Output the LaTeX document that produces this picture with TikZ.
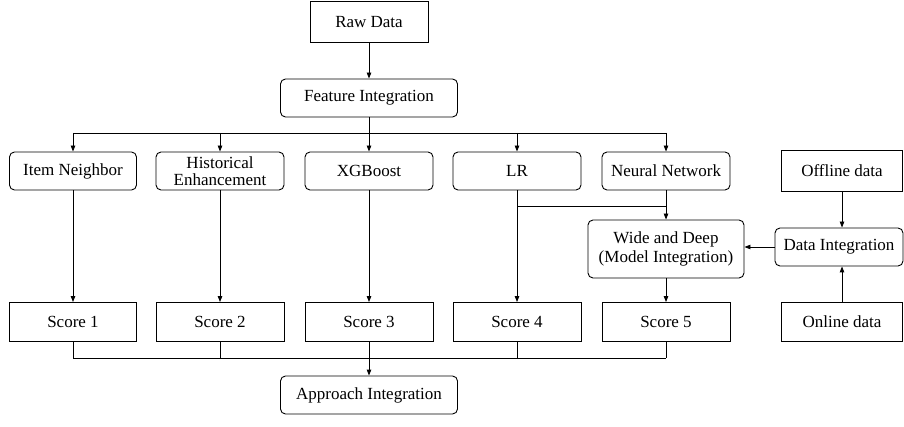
\documentclass[tikz,border=0pt]{standalone}
\usepackage{fontspec}
\setmainfont{Liberation Serif}
\usetikzlibrary{arrows.meta}
\begin{document}
\begin{tikzpicture}[x=1pt,y=-1pt,
  every node/.style={font=\fontsize{17}{19.5}\selectfont, inner sep=1pt, align=center, line width=0.9pt},
  plainbox/.style={draw, minimum width=#1, minimum height=39pt},
  plainbox/.default=128pt,
  roundbox/.style={draw, rounded corners=5pt, minimum width=#1, minimum height=38pt},
  roundbox/.default=128pt,
  conn/.style={line width=0.9pt},
  arr/.style={conn, -{Triangle[length=6pt,width=4.5pt]}}
]
\useasboundingbox (0,0) rectangle (904,427);

% source and feature stage
\node[plainbox=118pt, minimum height=41pt] (raw) at (369,22) {Raw Data};
\node[roundbox=177pt] (feat) at (369,98) {Feature Integration};

% model row
\node[roundbox=127pt] (item) at (73,171) {Item Neighbor};
\node[roundbox] (hist) at (220,171) {Historical\\[-2pt]Enhancement};
\node[roundbox] (xgb) at (369,171) {XGBoost};
\node[roundbox] (lr) at (517,171) {LR};
\node[roundbox] (nn) at (666,171) {Neural Network};

% data side
\node[plainbox=121pt, minimum height=41pt] (off) at (842,171) {Offline data};
\node[roundbox=156pt, minimum height=58pt] (wd) at (666,249) {Wide and Deep\\[-1pt](Model Integration)};
\node[roundbox=128pt] (di) at (839,247) {Data Integration};
\node[plainbox=121pt] (on) at (842,322) {Online data};

% scores
\node[plainbox=127pt] (s1) at (73,322) {Score 1};
\node[plainbox] (s2) at (220,322) {Score 2};
\node[plainbox] (s3) at (369,322) {Score 3};
\node[plainbox] (s4) at (517,322) {Score 4};
\node[plainbox] (s5) at (666,322) {Score 5};

\node[roundbox=177pt] (appr) at (369,395) {Approach Integration};

% bus coordinates
\coordinate (topbus) at (369,133);
\coordinate (lrjoin) at (517,206);
\coordinate (botbus) at (369,358);

\draw[arr] (raw) -- (feat);
\draw[conn] (feat.south) -- (topbus);
\draw[conn] (item.north |- topbus) -- (nn.north |- topbus);
\foreach \n in {item,hist,xgb,lr,nn}
  \draw[arr] (\n.north |- topbus) -- (\n.north);

\draw[arr] (item) -- (s1);
\draw[arr] (hist) -- (s2);
\draw[arr] (xgb) -- (s3);
\draw[arr] (lr) -- (s4);
\draw[conn] (lrjoin) -- (nn.south |- lrjoin);
\draw[arr] (nn) -- (wd);
\draw[arr] (wd) -- (s5);

\draw[arr] (off) -- (di.north -| off);
\draw[arr] (on) -- (di.south -| on);
\draw[arr] (di) -- (wd.east |- di);

\foreach \n in {s1,s2,s3,s4,s5}
  \draw[conn] (\n.south) -- (\n.south |- botbus);
\draw[conn] (s1.south |- botbus) -- (s5.south |- botbus);
\draw[arr] (botbus) -- (appr);
\end{tikzpicture}
\end{document}
